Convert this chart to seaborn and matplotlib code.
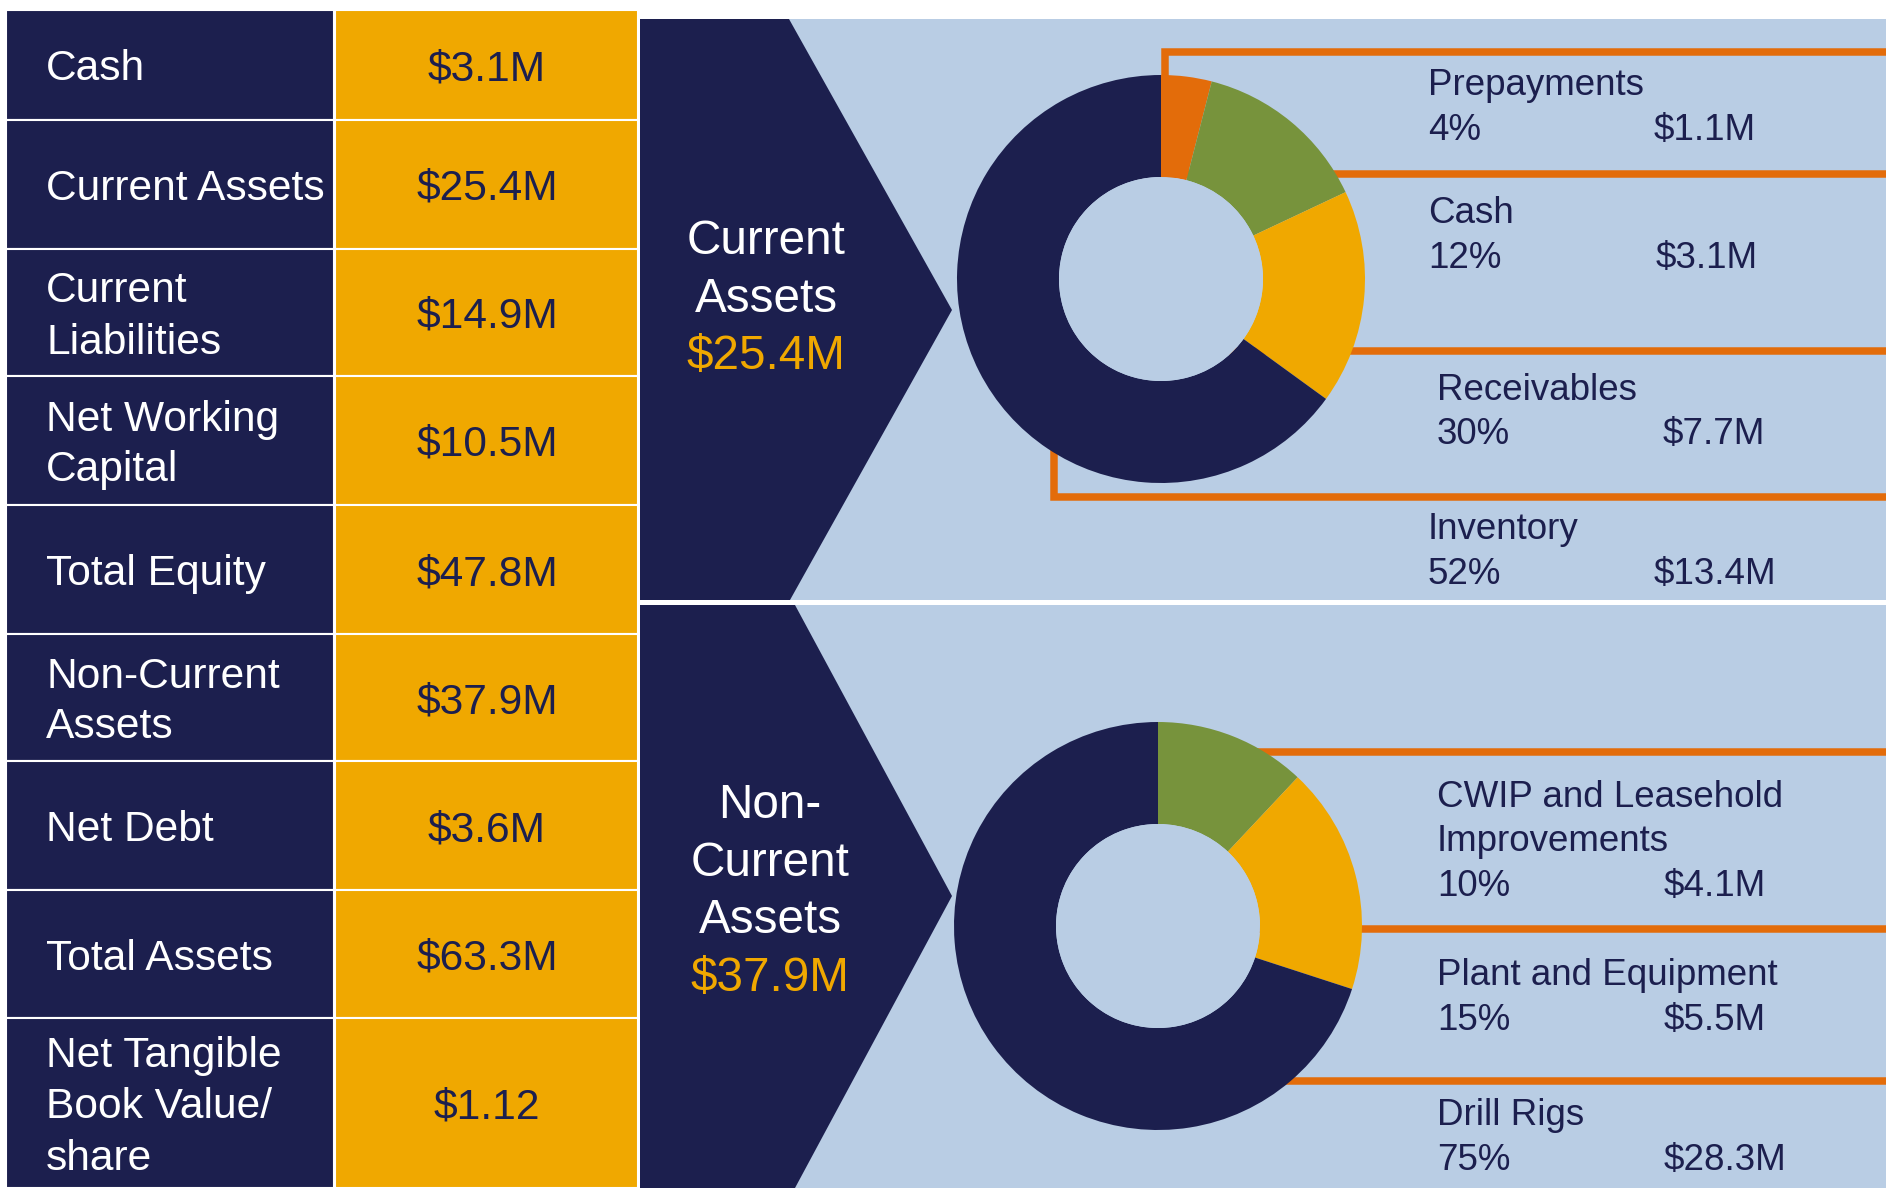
import numpy as np
import matplotlib
matplotlib.use("Agg")
import matplotlib.pyplot as plt
import seaborn as sns
from matplotlib.patches import Circle

sns.set_theme(style="white")
plt.rcParams['font.family'] = ['Liberation Sans', 'DejaVu Sans']

# colours
NAVY = "#1C1F4E"
GOLD = "#F0A800"
LIGHT = "#B9CDE4"
ORANGE = "#E36C0A"
GREEN = "#77933C"

# key figures table
table_labels = ["Cash", "Current Assets", "Current\nLiabilities", "Net Working\nCapital",
                "Total Equity", "Non-Current\nAssets", "Net Debt", "Total Assets",
                "Net Tangible\nBook Value/\nshare"]
table_values = ["$3.1M", "$25.4M", "$14.9M", "$10.5M", "$47.8M", "$37.9M", "$3.6M",
                "$63.3M", "$1.12"]

# current assets breakdown
ca_names = ["Prepayments", "Cash", "Receivables", "Inventory"]
ca_pcts = ["4%", "12%", "30%", "52%"]
ca_amounts = ["$1.1M", "$3.1M", "$7.7M", "$13.4M"]
ca_shares = [4, 14, 17, 65]   # wedge sizes as drawn
ca_colors = [ORANGE, GREEN, GOLD, NAVY]

# non-current assets breakdown
nca_names = ["CWIP and Leasehold\nImprovements", "Plant and Equipment", "Drill Rigs"]
nca_pcts = ["10%", "15%", "75%"]
nca_amounts = ["$4.1M", "$5.5M", "$28.3M"]
nca_shares = [12, 18, 70]     # wedge sizes as drawn
nca_colors = [GREEN, GOLD, NAVY]

W, H = 1886, 1188
fig = plt.figure(figsize=(W / 100, H / 100), dpi=100)
fig.patch.set_facecolor("white")
ax = fig.add_axes([0, 0, 1, 1])
ax.set_xlim(0, W)
ax.set_ylim(H, 0)
ax.axis("off")

# ---- table on the left ----
row_edges = np.array([10, 120, 249, 376, 505, 634, 761, 890, 1018, 1188])
tops = row_edges[:-1]
heights = np.diff(row_edges)
ax.bar(x=170, height=heights, bottom=tops, width=328, color=NAVY, edgecolor="white", linewidth=1.5)
ax.bar(x=486, height=heights, bottom=tops, width=303, color=GOLD, edgecolor="white", linewidth=1.5)
TS = 30.6
for top, h, lab, val in zip(tops, heights, table_labels, table_values):
    c = top + h / 2
    lines = lab.split("\n")
    n = len(lines)
    for i, ln in enumerate(lines):
        ax.text(46, c + 15.5 + (i - (n - 1) / 2) * 51, ln, color="white", fontsize=TS, va="baseline", ha="left")
    ax.text(487, c + 15.5, val, color=NAVY, fontsize=TS, va="baseline", ha="center")

# ---- panels ----
ax.fill([640, W, W, 640], [19, 19, 600, 600], color=LIGHT, lw=0)
ax.fill([640, W, W, 640], [605, 605, H, H], color=LIGHT, lw=0)
ax.fill([640, 789, 952, 790, 640], [19, 19, 310, 600, 600], color=NAVY, lw=0)
ax.fill([640, 795, 952, 795, 640], [605, 605, 896, H, H], color=NAVY, lw=0)

CS = 34.3
for i, (t, col) in enumerate(zip(["Current", "Assets", "$25.4M"], ["white", "white", GOLD])):
    ax.text(766, 254 + i * 57.5, t, color=col, fontsize=CS, ha="center", va="baseline")
for i, (t, col) in enumerate(zip(["Non-", "Current", "Assets", "$37.9M"], ["white", "white", "white", GOLD])):
    ax.text(770, 818 + i * 57.7, t, color=col, fontsize=CS, ha="center", va="baseline")

# ---- orange connector lines (donuts drawn on top) ----
LW = 5.4
kw = dict(color=ORANGE, lw=LW, solid_joinstyle="miter", solid_capstyle="butt")
ax.plot([1165, 1165, W], [90, 52, 52], **kw)
ax.plot([1161, W], [174, 174], **kw)
ax.plot([1161, W], [351, 351], **kw)
ax.plot([1054, 1054, W], [420, 497, 497], **kw)
ax.plot([1158, W], [752, 752], **kw)
ax.plot([1158, W], [929, 929], **kw)
ax.plot([1158, W], [1081, 1081], **kw)

# ---- labels next to donuts ----
LS = 26.5
ca_name_base = [95, 223, 400, 539]
ca_x = [1428, 1428, 1437, 1428]
ca_ax = [1654, 1656, 1663, 1654]
for nm, p, a, yb, x0, x1 in zip(ca_names, ca_pcts, ca_amounts, ca_name_base, ca_x, ca_ax):
    ax.text(x0, yb, nm, color=NAVY, fontsize=LS, va="baseline")
    ax.text(x0, yb + 44.5, p, color=NAVY, fontsize=LS, va="baseline")
    ax.text(x1, yb + 44.5, a, color=NAVY, fontsize=LS, va="baseline")

nca_name_base = [807, 985, 1125]
for nm, p, a, yb in zip(nca_names, nca_pcts, nca_amounts, nca_name_base):
    lines = nm.split("\n")
    for i, ln in enumerate(lines):
        ax.text(1437, yb + i * 44, ln, color=NAVY, fontsize=LS, va="baseline")
    yp = yb + len(lines) * 44.5
    ax.text(1437, yp, p, color=NAVY, fontsize=LS, va="baseline")
    ax.text(1664, yp, a, color=NAVY, fontsize=LS, va="baseline")


# ---- donuts ----
def donut(cx, cy, r, shares, colors):
    dax = fig.add_axes([(cx - r) / W, (H - cy - r) / H, 2 * r / W, 2 * r / H])
    dax.pie(shares, colors=colors, startangle=90, counterclock=False,
            wedgeprops=dict(width=0.5, linewidth=0))
    dax.add_patch(Circle((0, 0), 0.5, color=LIGHT, lw=0))
    dax.set_xlim(-1, 1)
    dax.set_ylim(-1, 1)
    dax.axis("off")


donut(1161, 279, 204, ca_shares, ca_colors)
donut(1158, 926, 204, nca_shares, nca_colors)

fig.savefig("out.png", dpi=100)
